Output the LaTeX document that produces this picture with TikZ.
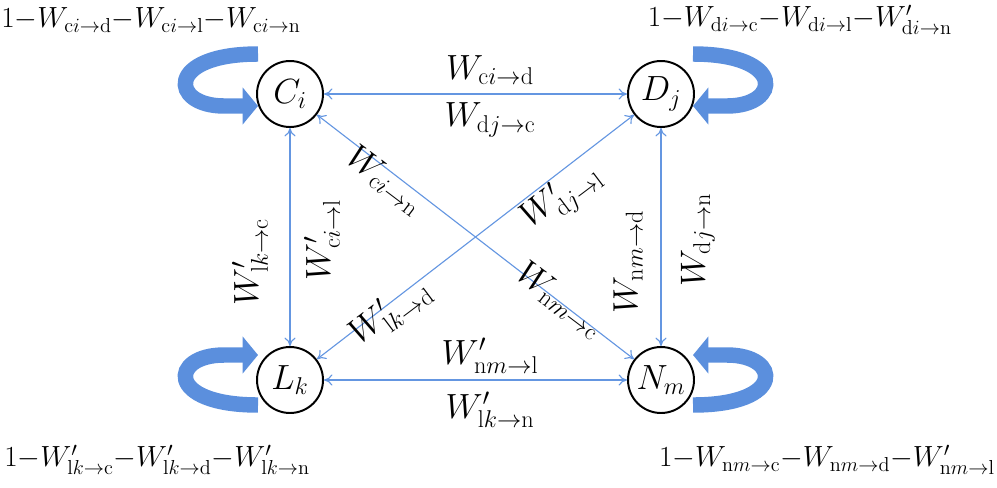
\documentclass[tikz,border=0pt]{standalone}
\usepackage{amsmath}
\usetikzlibrary{arrows.meta}
\definecolor{loopblue}{RGB}{91,143,221}
\definecolor{loopdark}{RGB}{62,104,170}
\definecolor{linkblue}{RGB}{100,150,225}
\tikzset{
  state/.style={circle,draw,line width=1.4pt,minimum size=66*0.025cm,inner sep=0pt},
  link/.style={color=linkblue,line width=0.8pt,{To[length=6pt,width=8pt]}-{To[length=6pt,width=8pt]}},
  selfloop/.style={line width=11pt,color=loopblue,-{Triangle[length=11pt,width=26pt]}},
  rest/.style={inner sep=0pt,font=\fontsize{22}{26}\selectfont},
}
\begin{document}
\begin{tikzpicture}[x=0.025cm,y=-0.025cm,font=\fontsize{23}{27}\selectfont]
\useasboundingbox (0,0) rectangle (997,487);

\node[state] (c) at (290,94) {$C_i$};
\node[state] (d) at (661,94) {$D_j$};
\node[state] (l) at (290,380) {$L_k$};
\node[state] (n) at (661,380) {$N_m$};

% links between states
\draw[link] (c) -- (d);
\draw[link] (c) -- (l);
\draw[link] (d) -- (n);
\draw[link] (l) -- (n);
\draw[link] (c) -- (n);
\draw[link] (d) -- (l);

\node at (490,70) {$W_{\mathrm{c}i\to\mathrm{d}}$};
\node at (490,120) {$W_{\mathrm{d}j\to\mathrm{c}}$};
\node at (490,356) {$W'_{\mathrm{n}m\to\mathrm{l}}$};
\node at (490,410) {$W'_{\mathrm{l}k\to\mathrm{n}}$};
\node[rotate=90] at (250,262) {$W'_{\mathrm{l}k\to\mathrm{c}}$};
\node[rotate=90] at (322,240) {$W'_{\mathrm{c}i\to\mathrm{l}}$};
\node[rotate=90] at (628,262) {$W_{\mathrm{n}m\to\mathrm{d}}$};
\node[rotate=90] at (698,240) {$W_{\mathrm{d}j\to\mathrm{n}}$};
\node[rotate=-37] at (385,180) {$W_{\mathrm{c}i\to\mathrm{n}}$};
\node[rotate=-37] at (560,300) {$W_{\mathrm{n}m\to\mathrm{c}}$};
\node[rotate=37] at (562,198) {$W'_{\mathrm{d}j\to\mathrm{l}}$};
\node[rotate=37] at (390,312) {$W'_{\mathrm{l}k\to\mathrm{d}}$};

\node[rest,anchor=west] at (1,20) {$1{-}W_{\mathrm{c}i\to\mathrm{d}}{-}W_{\mathrm{c}i\to\mathrm{l}}{-}W_{\mathrm{c}i\to\mathrm{n}}$};
\node[rest,anchor=east] at (952,20) {$1{-}W_{\mathrm{d}i\to\mathrm{c}}{-}W_{\mathrm{d}i\to\mathrm{l}}{-}W'_{\mathrm{d}i\to\mathrm{n}}$};
\node[rest,anchor=west] at (4,460) {$1{-}W'_{\mathrm{l}k\to\mathrm{c}}{-}W'_{\mathrm{l}k\to\mathrm{d}}{-}W'_{\mathrm{l}k\to\mathrm{n}}$};
\node[rest,anchor=east] at (995,460) {$1{-}W_{\mathrm{n}m\to\mathrm{c}}{-}W_{\mathrm{n}m\to\mathrm{d}}{-}W'_{\mathrm{n}m\to\mathrm{l}}$};

% self loops
\draw[selfloop] (258,54) .. controls (165,54) and (170,106) .. (224,106) -- (258,106);
\draw[selfloop] (693,54) .. controls (786,54) and (781,106) .. (727,106) -- (693,106);
\draw[selfloop] (258,405) .. controls (165,405) and (170,355) .. (224,355) -- (258,355);
\draw[selfloop] (693,405) .. controls (786,405) and (781,355) .. (727,355) -- (693,355);
\end{tikzpicture}
\end{document}
